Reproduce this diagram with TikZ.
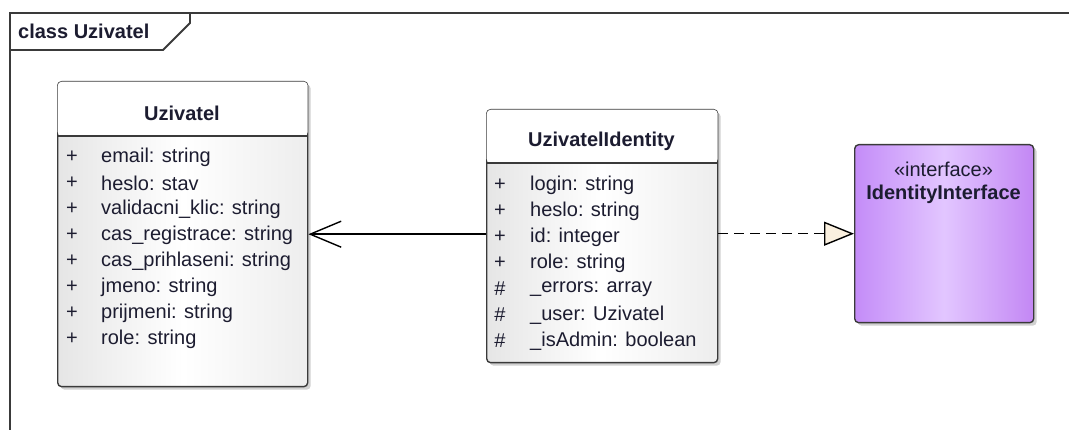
\documentclass[tikz,border=0pt]{standalone}
\usepackage{fontspec}
\setmainfont{Liberation Sans}
\usetikzlibrary{arrows.meta,shadows,calc}

\definecolor{edge}{HTML}{3A3A3A}
\definecolor{ink}{HTML}{1C1C30}
\definecolor{cream}{HTML}{FAF0DF}
\definecolor{ifaceA}{HTML}{C48CF8}
\definecolor{ifaceB}{HTML}{E2C6FF}
\definecolor{ifaceC}{HTML}{C387F4}

\tikzset{
  umlbox/.style={draw=edge, line width=1.4pt, rounded corners=4pt,
    anchor=north west, inner sep=0pt,
    drop shadow={shadow xshift=3pt, shadow yshift=-3pt, fill=black!30, opacity=0.6}},
  classbox/.style={umlbox, left color=black!10, right color=black!7, middle color=white},
  ifacebox/.style={umlbox, left color=ifaceA, right color=ifaceC, middle color=ifaceB},
  txt/.style={text=ink, inner sep=0pt, font=\fontsize{20}{24}\selectfont},
  title/.style={txt, font=\fontsize{20}{24}\selectfont\bfseries},
  attr/.style={txt, anchor=west},
  vis/.style={txt},
  frameline/.style={draw=edge, line width=1.8pt},
  assoc/.style={draw=black, line width=1.4pt,
    -{Straight Barb[length=31pt, width=26pt, line width=1.4pt]}},
  realize/.style={draw=black, line width=1.4pt, dash pattern=on 10pt off 6pt,
    -{Triangle[length=30pt, width=24pt, fill=cream, line width=1.4pt, sep=0pt]}}
}

\begin{document}
\begin{tikzpicture}[x=1pt, y=-1pt]
  \useasboundingbox (0,0) rectangle (1069,430);

  % diagram frame and its name tab
  \draw[frameline] (10,432) -- (10,13) -- (1072,13);
  \draw[frameline] (10,50) -- (163,50) -- (190,23) -- (190,13);
  \node[title, anchor=west] (framelabel) at (18,31) {class Uzivatel};

  % class Uzivatel
  \node[classbox, minimum width=250pt, minimum height=305pt] (uz) at (57,81) {};
  \fill[white, rounded corners=4pt] ($(uz.north west)+(0.7,0.7)$) rectangle ($(uz.north east |- 0,136)+(-0.7,0)$);
  \draw[edge, line width=1.4pt] (uz.west |- 0,136) -- (uz.east |- 0,136);
  \node[title] (uzname) at (182,113) {Uzivatel};
  \foreach \t [count=\i] in {email: string, heslo: stav, validacni\_klic: string,
      cas\_registrace: string, cas\_prihlaseni: string, jmeno: string,
      prijmeni: string, role: string} {
    \node[vis] (uzv\i) at (72,{131+26*\i}) {+};
    \node[attr] (uza\i) at (101,{131+26*\i}) {\t};
  }

  % class UzivatelIdentity
  \node[classbox, minimum width=231pt, minimum height=253pt] (ident) at (486,109) {};
  \fill[white, rounded corners=4pt] ($(ident.north west)+(0.7,0.7)$) rectangle ($(ident.north east |- 0,163)+(-0.7,0)$);
  \draw[edge, line width=1.4pt] (ident.west |- 0,163) -- (ident.east |- 0,163);
  \node[title] (identname) at (601.5,141) {UzivatelIdentity};
  \foreach \s/\t [count=\i] in {+/login: string, +/heslo: string, +/id: integer,
      +/role: string, \#/\_errors: array, \#/\_user: Uzivatel, \#/\_isAdmin: boolean} {
    \node[vis] (idv\i) at (500,{159+26*\i}) {\s};
    \node[attr] (ida\i) at (530,{159+26*\i}) {\t};
  }

  % interface IdentityInterface
  \node[ifacebox, minimum width=179pt, minimum height=178pt] (iface) at (854,144) {};
  \node[txt] (ifstereo) at (943.5,169) {«interface»};
  \node[title] (ifname) at (943.5,194) {IdentityInterface};

  % connectors
  \draw[assoc] (ident.west |- uz.east) -- (uz.east);
  \draw[realize] (ident.east |- iface.west) -- (iface.west);
\end{tikzpicture}
\end{document}
